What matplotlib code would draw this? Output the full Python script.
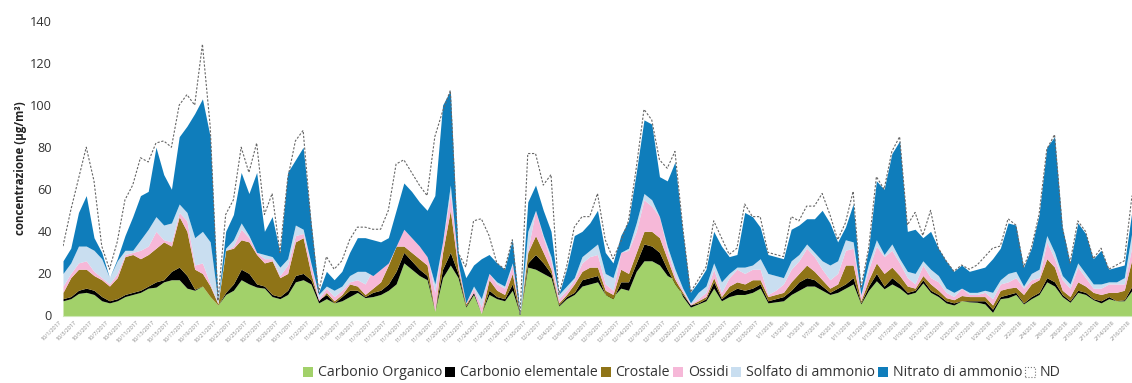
import numpy as np
import pandas as pd
import matplotlib
matplotlib.use('Agg')
import matplotlib.pyplot as plt
from matplotlib.patches import Patch
from matplotlib.transforms import ScaledTranslation

plt.rcParams['font.family'] = ['Open Sans', 'DejaVu Sans']

# cumulative tops of the stacked areas
organico = [7,8,10.5,11,10,7,6,7,9,10,11,13,13.5,16,17,17,13,12,14,9,5,10,12,17,15,13.5,13,9,8,10,16,17,15,6,8,6,7,9,11,8.5,9,10,12,15,25,22,19,17,2,18,24,18,4,10,1,10,8,7,12,0.5,23,22,20,18,4.5,8,10,14,15,16,10,9,13,12,21,26,26,24,19,17,9,4,5.5,7,13,7,9,10,10,11,13,6,6.5,7,10,12,14,14,12,10,11,13,15,5.5,12,16.5,12.7,15,13,10,11,15.5,11,9,6,5,7,6.5,6.3,5.5,1.5,8,8.5,10,5.5,8,10,16,14,9,6.3,11,10,7.5,6,8,7,7,12]
elementale = [8,9,12,13,12,9,7,8,10,11,12,14,16,17,21,23,19,12.5,14,9,5,11,15,22,20,15,14,10,9,12,19,20,17,7.5,10,6,9,12,12,9,11,12,15,21,30,26,22,19,2,22,30,20,4.5,11,1,12,9,8,15,0.5,25,29,25,20,5,9,11,17,18,19,10,8,16,16,25,34,33,30,22,15,10,5,6,8,16,8,11,13,12,13,15,7,8,9,12,16,18,17,14,11,13,15,18,6,14,20,14,18,15,11,12,17,12,10,7,6,7,7,7,7,3,9,10,11,6,9,11,18,16,10,7,12,11,8,7,9,7,7.5,14]
crostale = [11,18,22,22,19,17,14,18,28,29,27,29,32,35,33,47,40,22,20,14,5.5,31,32,36,35,29,25,26,18,20,35,37,20,7,11,7,10,15,14,10,13,16,24,33,33,30,27,24,2,30,50,22,5.5,11,1,17,12,10,20,0.5,30,38,30,22,6,10,15,21,23,23,12,10,22,20,30,40,40,37,27,17,11,5,7,9,18,9,14,16,15,17,17,9,10,11,16,20,24,21,17,13,15,24,24,7,17,25,20,23,19,14,13,19,15,12,8.5,7.5,9.5,9,9,9,5,12,13,13.5,10,15,17,27,23,12,9,16,14,11,10,11,11,12,27]
ossidi = [14,20,25,26,21,18,15,20,29,30,31,33,40,36,35,49,45,24,25,15,6,31,33,41,37,30,27,27,19,24,38,39,24,8,13,9,12,16,17,15,22,25,31,35,41,37,33,29,11,35,58,25,6,13,4,20,15,13,24,0.5,31,50,37,26,8,12,17,25,28,29,15,12,30,31,40,55,52,47,31,19,12,5.5,8,11,22,11,18,22,20,22,22,10,12,15,22,26,32,28,22,17,20,31,32,9,22,33,28,31,25,18,15,24,18,16,11,9,13,10,10,11,8,15,16,18,13,17,18,35,27,17,13,23,18,13,13,15,15,15,33]
solfato = [20,25,33,33,31,27,18,26,31,31,36,41,47,43,44,53,49,37,40,35,7,32,36,44,38,30,29,28,23,27,43,41,25,10,14,12,14,19,21,21,19,22,25,33,41,37,33,28,15,35,62,25,6,14,8,20,16,14,25,0.5,40,50,38,28,10,14,18,28,31,34,20,18,30,32,44,58,55,47,33,22,13,6,11,14,25,16,20,23,23,24,27,20,19,18,26,29,34,30,26,24,26,36,35,10,25,36,29,34,27,21,20,26,22,19,13,11,13,11,11,12,11,17,20,21,14,20,22,38,30,19,15,25,20,15,15,16,16,18,40]
nitrato = [26,32,49,57,37,30,18,27,38,47,57,59,80,67,60,85,90,96,103,85,7,40,48,68,58,68,40,47,30,68,74,80,45,11,21,17,21,30,37,37,36,35,37,50,63,59,54,50,57,100,107,30,18,24,27,29,25,22,36,0.5,54,62,50,40,10,22,38,40,44,50,30,25,38,45,68,93,91,66,64,73,40,11,16,22,40,33,28,29,49,47,42,29,28,27,41,43,46,46,50,44,35,42,53,13,32,64,60,77,83,40,41,37,40,32,26,21,24,21,22,23,27,32,44,43,23,32,48,80,85,42,25,44,39,27,31,22,23,24,50]
nd = [33,50,65,80,64,33,22,35,55,62,75,73,82,83,80,100,105,100,129,90,7,48,55,80,68,82,48,58,30,65,83,88,45,11,28,22,26,36,42,42,41,41,50,72,74,68,62,57,85,97,107,30,23,45,46,38,25,22,36,0.5,77,77,62,67,10,23,42,47,47,58,36,27,35,45,70,98,93,74,70,78,42,11,17,23,45,37,29,32,53,47,47,30,29,28,47,45,52,52,58,48,36,44,59,13,32,66,60,78,85,43,49,38,50,32,26,21,24,22,24,28,32,33,46,43,23,32,48,79,86,42,25,45,40,27,32,22,24,26,57]

nomi = ['Carbonio Organico', 'Carbonio elementale', 'Crostale', 'Ossidi', 'Solfato di ammonio', 'Nitrato di ammonio', 'ND']
colori = ['#a2d16a', '#000000', '#8f7417', '#f6b8d8', '#c9def0', '#0f7dbb']
giorni = pd.date_range('2017-10-01', periods=len(nd), freq='D')
etichette = [f'{d.month}/{d.day}/{d.year}' for d in giorni]

fig = plt.figure(figsize=(11.32, 3.83), dpi=100)
ax = fig.add_axes([63 / 1132, (383 - 315.5) / 383, (1132 - 63) / 1132, 294.5 / 383])

x = np.arange(len(nd))
serie = [organico, elementale, crostale, ossidi, solfato, nitrato]
sotto = np.zeros(len(nd))
for s, c in zip(serie, colori):
    ax.fill_between(x, sotto, s, color=c, linewidth=0)
    sotto = np.array(s, dtype=float)
ax.plot(x, nd, color='#666666', linewidth=0.8, linestyle=(0, (2, 1.5)))

ax.set_xlim(0, len(nd) - 1)
ax.set_ylim(0, 140)
ax.set_yticks(range(0, 141, 20))
ax.set_xticks(x[::2])
ax.set_xticklabels(etichette[::2], rotation=45, ha='right', rotation_mode='anchor', fontsize=4, color='#8a8a8a')
ax.tick_params(axis='both', length=0)
ax.tick_params(axis='y', labelsize=9.2, labelcolor='#333333', pad=8)
ax.tick_params(axis='x', pad=3)
# labels sit a little left of their ticks, otherwise the last one is cut
# has to come after tick_params, which resets the transform
for t in ax.get_xticklabels():
    t.set_transform(t.get_transform() + ScaledTranslation(-4 / 100, 0, fig.dpi_scale_trans))
for lato in ['top', 'right', 'left']:
    ax.spines[lato].set_visible(False)
ax.spines['bottom'].set_color('#cfe8b8')
ax.set_ylabel('concentrazione (µg/m³)', fontsize=8.3, fontweight='bold', color='#222222', labelpad=2)

maniglie = [Patch(facecolor=c, edgecolor='none') for c in colori]
maniglie.append(Patch(facecolor='white', edgecolor='#777777', linestyle=':', linewidth=0.8))
fig.legend(maniglie, nomi, loc='center', bbox_to_anchor=(682 / 1132, 1 - 373 / 383), ncol=7, frameon=False,
           fontsize=10.2, labelcolor='#333333', handlelength=0.7, handleheight=0.7, handletextpad=0.35, columnspacing=0.2)

fig.savefig('out.png', dpi=100)
